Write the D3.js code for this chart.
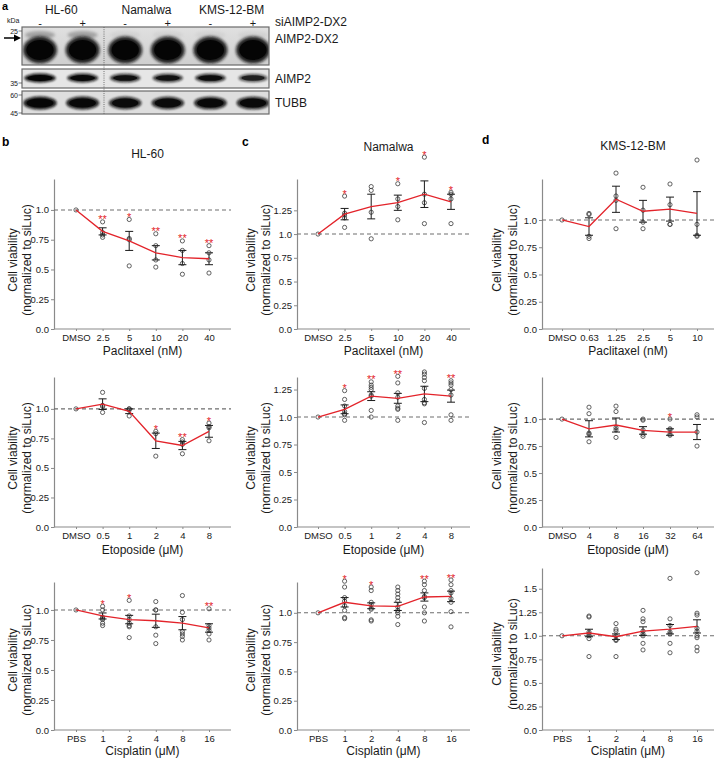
<!DOCTYPE html>
<html><head><meta charset="utf-8">
<script src="https://cdn.jsdelivr.net/npm/d3@7"></script>
<style>
body{margin:0;background:#fff}
svg{display:block}
text{font-family:"Liberation Sans",Arial,Helvetica,sans-serif}
</style>
</head><body>
<svg id="fig" width="719" height="758"></svg>
<script>
// ---------------- DATA ----------------
// Western blot (panel a)
const cellLines = ["HL-60", "Namalwa", "KMS-12-BM"];
const siLanes = ["-", "+", "-", "+", "-", "+"];
const blotRows = ["AIMP2-DX2", "AIMP2", "TUBB"];
const bandDX2 = [1.0, 1.0, 1.0, 1.0, 1.0, 1.0];
const bandAIMP2 = [0.95, 0.85, 0.75, 0.72, 0.78, 0.55];
const bandTUBB = [0.95, 0.9, 0.82, 0.82, 0.85, 0.85];
const markerLabels = ["25", "35", "60", "45"];

// Category (tick) labels
const catPacHL = ["DMSO", "2.5", "5", "10", "20", "40"];
const catPacKMS = ["DMSO", "0.63", "1.25", "2.5", "5", "10"];
const catEto = ["DMSO", "0.5", "1", "2", "4", "8"];
const catEtoKMS = ["DMSO", "4", "8", "16", "32", "64"];
const catCis = ["PBS", "1", "2", "4", "8", "16"];

const yTicks10 = [0, 0.25, 0.5, 0.75, 1.0];
const yTicks125 = [0, 0.25, 0.5, 0.75, 1.0, 1.25];
const yTicks15 = [0, 0.25, 0.5, 0.75, 1.0, 1.25, 1.5];
const yTickText = ["0.0", "0.25", "0.5", "0.75", "1.0", "1.25", "1.5"];

// b: HL-60
const meanB1 = [1, 0.82, 0.74, 0.64, 0.60, 0.59];
const semB1 = [0, 0.03, 0.08, 0.06, 0.06, 0.05];
const ptsB1 = [[1], [0.90, 0.81, 0.79, 0.77], [0.92, 0.76, 0.75, 0.53], [0.80, 0.70, 0.58, 0.52], [0.74, 0.66, 0.55, 0.46], [0.70, 0.64, 0.58, 0.47]];
const sigB1 = ["", "**", "*", "**", "**", "**"];

const meanB2 = [1, 1.04, 0.98, 0.73, 0.69, 0.81];
const semB2 = [0, 0.045, 0.02, 0.065, 0.035, 0.05];
const ptsB2 = [[1], [1.14, 1.03, 1.02, 0.97], [1.0, 1.0, 0.99, 0.94], [0.81, 0.79, 0.60], [0.74, 0.72, 0.70, 0.62], [0.88, 0.85, 0.84, 0.73]];
const sigB2 = ["", "", "", "*", "**", "*"];

const meanB3 = [1, 0.95, 0.92, 0.91, 0.89, 0.85];
const semB3 = [0, 0.025, 0.035, 0.055, 0.055, 0.035];
const ptsB3 = [[1], [1.03, 1.0, 0.94, 0.93, 0.92, 0.89, 0.87], [1.08, 0.95, 0.92, 0.89, 0.87, 0.86, 0.77], [1.07, 1.0, 1.0, 0.86, 0.79, 0.72], [1.12, 0.98, 0.92, 0.82, 0.80, 0.78, 0.75], [1.01, 0.87, 0.85, 0.83, 0.80, 0.75]];
const sigB3 = ["", "*", "*", "", "", "**"];

// c: Namalwa
const meanC1 = [1, 1.21, 1.29, 1.33, 1.42, 1.34];
const semC1 = [0, 0.06, 0.13, 0.08, 0.14, 0.08];
const ptsC1 = [[1], [1.40, 1.22, 1.20, 1.17, 1.07], [1.50, 1.46, 1.23, 0.95], [1.53, 1.37, 1.29, 1.15], [1.81, 1.42, 1.33, 1.11], [1.44, 1.42, 1.37, 1.11]];
const sigC1 = ["", "*", "", "*", "*", "*"];

const meanC2 = [1, 1.07, 1.19, 1.17, 1.21, 1.19];
const semC2 = [0, 0.04, 0.04, 0.045, 0.07, 0.055];
const ptsC2 = [[1], [1.24, 1.16, 1.10, 1.05, 1.03, 1.02, 0.97], [1.32, 1.29, 1.27, 1.25, 1.20, 1.19, 1.06, 1.0], [1.37, 1.31, 1.22, 1.18, 1.10, 1.08, 1.07, 0.97], [1.41, 1.39, 1.36, 1.33, 1.26, 1.16, 1.13, 1.12, 0.95], [1.33, 1.31, 1.29, 1.25, 1.20, 1.02, 0.97]];
const sigC2 = ["", "*", "**", "**", "", "**"];

const meanC3 = [1, 1.09, 1.06, 1.055, 1.135, 1.14];
const semC3 = [0, 0.04, 0.025, 0.035, 0.035, 0.045];
const ptsC3 = [[1], [1.27, 1.22, 1.13, 1.10, 1.06, 1.02, 0.96, 0.95], [1.22, 1.19, 1.09, 1.07, 1.04, 1.03, 0.94, 0.93], [1.22, 1.19, 1.16, 1.13, 1.10, 1.05, 1.02, 1.0, 0.97, 0.90], [1.27, 1.24, 1.19, 1.14, 1.13, 1.05, 1.0, 0.93], [1.28, 1.24, 1.19, 1.17, 1.12, 1.09, 1.01, 0.88]];
const sigC3 = ["", "*", "*", "", "**", "**"];

// d: KMS-12-BM
const meanD1 = [1, 0.94, 1.19, 1.08, 1.10, 1.06];
const semD1 = [0, 0.08, 0.12, 0.10, 0.11, 0.20];
const ptsD1 = [[1], [1.06, 1.05, 0.85, 0.83], [1.43, 1.22, 1.18, 0.92], [1.30, 1.09, 0.98, 0.92], [1.33, 1.14, 0.96, 0.96], [1.55, 0.96, 0.86, 0.85]];
const sigD1 = ["", "", "", "", "", ""];

const meanD2 = [1, 0.91, 0.945, 0.895, 0.88, 0.88];
const semD2 = [0, 0.075, 0.065, 0.035, 0.03, 0.07];
const ptsD2 = [[1], [1.11, 1.05, 0.87, 0.86, 0.79], [1.12, 1.07, 0.92, 0.90, 0.83], [1.0, 0.99, 0.90, 0.86, 0.84], [1.0, 0.91, 0.90, 0.86, 0.85], [1.04, 1.02, 0.88, 0.75]];
const sigD2 = ["", "", "", "", "*", ""];

const meanD3 = [1, 1.03, 0.99, 1.05, 1.07, 1.10];
const semD3 = [0, 0.04, 0.03, 0.045, 0.05, 0.07];
const ptsD3 = [[1], [1.21, 1.20, 1.04, 1.02, 1.0, 0.97, 0.78], [1.13, 1.07, 1.05, 1.0, 0.96, 0.95, 0.78], [1.27, 1.18, 1.15, 1.05, 1.02, 1.0, 0.92, 0.85], [1.61, 1.18, 1.11, 1.04, 1.02, 0.92, 0.82], [1.67, 1.24, 1.22, 1.08, 1.05, 1.0, 0.98, 0.88, 0.84]];
const sigD3 = ["", "", "", "", "", ""];

// ---------------- LAYOUT ----------------
const svg = d3.select("#fig");
const RED = "#e3232a";
const AXIS = "#8a8a8a";
const INK = "#1a1a1a";

const cols = {
  b: {x0: 54, x1: 231, p0: 76, p1: 209, lab1: 12.5, lab2: 27, title: "HL-60", titleY: 158, letterY: 146, letterX: 2},
  c: {x0: 297, x1: 470, p0: 318, p1: 451, lab1: 251, lab2: 266, title: "Namalwa", titleY: 151, letterY: 146, letterX: 242},
  d: {x0: 542, x1: 714, p0: 562, p1: 697, lab1: 497, lab2: 513, title: "KMS-12-BM", titleY: 150, letterY: 144, letterX: 482}
};
const rows = [
  {yt: 179, yb: 329, xlabY: 355, labC: 260},
  {yt: 377, yb: 527, xlabY: 554, labC: 458},
  {yt: 582, yb: 730, xlabY: 755, labC: 660}
];

const panels = [
  {col: "b", row: 0, cats: catPacHL, mean: meanB1, sem: semB1, pts: ptsB1, sig: sigB1, ymax: 1.26, yticks: yTicks10, xlab: "Paclitaxel (nM)"},
  {col: "c", row: 0, cats: catPacHL, mean: meanC1, sem: semC1, pts: ptsC1, sig: sigC1, ymax: 1.58, yticks: yTicks125, xlab: "Paclitaxel (nM)"},
  {col: "d", row: 0, cats: catPacKMS, mean: meanD1, sem: semD1, pts: ptsD1, sig: sigD1, ymax: 1.376, yticks: yTicks10, xlab: "Paclitaxel (nM)"},
  {col: "b", row: 1, cats: catEto, mean: meanB2, sem: semB2, pts: ptsB2, sig: sigB2, ymax: 1.27, yticks: yTicks10, xlab: "Etoposide (\u03bcM)"},
  {col: "c", row: 1, cats: catEto, mean: meanC2, sem: semC2, pts: ptsC2, sig: sigC2, ymax: 1.364, yticks: yTicks125, xlab: "Etoposide (\u03bcM)"},
  {col: "d", row: 1, cats: catEtoKMS, mean: meanD2, sem: semD2, pts: ptsD2, sig: sigD2, ymax: 1.39, yticks: yTicks10, xlab: "Etoposide (\u03bcM)"},
  {col: "b", row: 2, cats: catCis, mean: meanB3, sem: semB3, pts: ptsB3, sig: sigB3, ymax: 1.233, yticks: yTicks10, xlab: "Cisplatin (\u03bcM)"},
  {col: "c", row: 2, cats: catCis, mean: meanC3, sem: semC3, pts: ptsC3, sig: sigC3, ymax: 1.263, yticks: yTicks10, xlab: "Cisplatin (\u03bcM)"},
  {col: "d", row: 2, cats: catCis, mean: meanD3, sem: semD3, pts: ptsD3, sig: sigD3, ymax: 1.72, yticks: yTicks15, xlab: "Cisplatin (\u03bcM)", yt: 568, labC: 654}
];

function fmtTick(v) { return yTickText[Math.round(v / 0.25)]; }

function drawPanel(p) {
  const C = cols[p.col], R = rows[p.row];
  const yt = p.yt || R.yt, yb = R.yb;
  const g = svg.append("g");
  const x = d3.scalePoint().domain(p.cats).range([C.p0, C.p1]);
  const y = d3.scaleLinear().domain([0, p.ymax]).range([yb, yt]);

  // y axis
  const ya = g.append("g").attr("transform", `translate(${C.x0},0)`)
    .call(d3.axisLeft(y).tickValues(p.yticks).tickFormat(fmtTick).tickSize(3).tickSizeOuter(0).tickPadding(2));
  ya.select(".domain").attr("stroke", AXIS).attr("stroke-width", 1.2);
  ya.selectAll(".tick line").attr("stroke", AXIS);
  ya.selectAll(".tick text").attr("fill", INK).style("font-size", "9.5px").style("font-family", "'Liberation Sans',Arial,sans-serif");

  // x axis
  const xa = g.append("g").attr("transform", `translate(0,${yb})`)
    .call(d3.axisBottom(x).tickSize(2).tickSizeOuter(0).tickPadding(3));
  xa.select(".domain").remove();
  xa.selectAll(".tick line").attr("stroke", AXIS);
  xa.selectAll(".tick text").attr("fill", INK).style("font-size", "9.5px").style("font-family", "'Liberation Sans',Arial,sans-serif");
  g.append("line").attr("x1", C.x0).attr("x2", C.x1).attr("y1", yb).attr("y2", yb)
    .attr("stroke", AXIS).attr("stroke-width", 1.2);

  // reference dashed line at 1.0
  g.append("line").attr("x1", C.x0).attr("x2", C.x1).attr("y1", y(1)).attr("y2", y(1))
    .attr("stroke", "#6e6e6e").attr("stroke-width", 1.1).attr("stroke-dasharray", "4,3");

  // individual points
  const flat = [];
  p.pts.forEach((arr, i) => arr.forEach(v => flat.push({c: p.cats[i], v})));
  g.selectAll("circle.pt").data(flat).enter().append("circle")
    .attr("cx", d => x(d.c)).attr("cy", d => y(d.v)).attr("r", 2.1)
    .attr("fill", "none").attr("stroke", "#3a3a3a").attr("stroke-width", 0.8);

  // error bars
  const eb = p.mean.map((m, i) => ({c: p.cats[i], m, s: p.sem[i]})).filter(d => d.s > 0);
  const ebg = g.selectAll("g.eb").data(eb).enter().append("g");
  ebg.append("line").attr("x1", d => x(d.c)).attr("x2", d => x(d.c))
    .attr("y1", d => y(d.m - d.s)).attr("y2", d => y(d.m + d.s)).attr("stroke", INK).attr("stroke-width", 1);
  ebg.append("line").attr("x1", d => x(d.c) - 4).attr("x2", d => x(d.c) + 4)
    .attr("y1", d => y(d.m + d.s)).attr("y2", d => y(d.m + d.s)).attr("stroke", INK).attr("stroke-width", 1);
  ebg.append("line").attr("x1", d => x(d.c) - 4).attr("x2", d => x(d.c) + 4)
    .attr("y1", d => y(d.m - d.s)).attr("y2", d => y(d.m - d.s)).attr("stroke", INK).attr("stroke-width", 1);

  // mean line
  g.append("path").datum(p.mean.map((m, i) => [x(p.cats[i]), y(m)]))
    .attr("d", d3.line()).attr("fill", "none").attr("stroke", RED).attr("stroke-width", 1.3);

  // significance
  p.sig.forEach((s, i) => {
    if (!s) return;
    g.append("text").attr("x", x(p.cats[i])).attr("y", y(d3.max(p.pts[i])) + 1.5)
      .attr("text-anchor", "middle").attr("fill", RED).style("font-size", "11px").text(s);
  });

  // axis titles
  g.append("text").attr("x", (C.x0 + C.x1) / 2).attr("y", R.xlabY).attr("text-anchor", "middle")
    .attr("fill", INK).style("font-size", "12px").text(p.xlab);
  const lc = p.labC || R.labC;
  g.append("text").attr("transform", `translate(${C.lab1},${lc}) rotate(-90)`).attr("text-anchor", "middle")
    .attr("dominant-baseline", "central").attr("fill", INK).style("font-size", "12px").text("Cell viability");
  g.append("text").attr("transform", `translate(${C.lab2},${lc}) rotate(-90)`).attr("text-anchor", "middle")
    .attr("dominant-baseline", "central").attr("fill", INK).style("font-size", "12px").text("(normalized to siLuc)");
}

panels.forEach(drawPanel);

// column titles & letters
Object.entries(cols).forEach(([k, C]) => {
  svg.append("text").attr("x", (C.x0 + C.x1) / 2 + 5).attr("y", C.titleY).attr("text-anchor", "middle")
    .attr("fill", INK).style("font-size", "12px").text(C.title);
  svg.append("text").attr("x", C.letterX).attr("y", C.letterY).attr("fill", "#000")
    .style("font-size", "12px").style("font-weight", "bold").text(k);
});

// ---------------- PANEL a : western blot ----------------
const A = svg.append("g");
A.append("text").attr("x", 2).attr("y", 10).style("font-size", "11px").style("font-weight", "bold").text("a");

const defs = svg.append("defs");
defs.append("filter").attr("id", "blur1").attr("x", "-40%").attr("y", "-60%").attr("width", "180%").attr("height", "220%")
  .append("feGaussianBlur").attr("stdDeviation", 1.4);
defs.append("filter").attr("id", "blur2").attr("x", "-40%").attr("y", "-100%").attr("width", "180%").attr("height", "300%")
  .append("feGaussianBlur").attr("stdDeviation", 1.1);
const lg = defs.append("linearGradient").attr("id", "bg1").attr("x1", 0).attr("y1", 0).attr("x2", 0).attr("y2", 1);
lg.append("stop").attr("offset", "0%").attr("stop-color", "#e0e0e0");
lg.append("stop").attr("offset", "100%").attr("stop-color", "#cfcfcf");

const laneX = d3.scalePoint().domain(d3.range(siLanes.length)).range([40, 253]);
const boxX0 = 22, boxX1 = 269;
const boxes = [
  {y0: 27, y1: 65, bands: bandDX2, cy: 50, rx: 16, ry: 12.5, fill: "url(#bg1)", filt: "blur1"},
  {y0: 69, y1: 88, bands: bandAIMP2, cy: 78, rx: 15, ry: 3.8, fill: "#e6e6e6", filt: "blur2"},
  {y0: 91, y1: 114, bands: bandTUBB, cy: 103, rx: 16, ry: 5.8, fill: "#dedede", filt: "blur2"}
];
boxes.forEach((b, bi) => {
  A.append("rect").attr("x", boxX0).attr("y", b.y0).attr("width", boxX1 - boxX0).attr("height", b.y1 - b.y0)
    .attr("fill", b.fill);
  const cp = "clip" + bi;
  defs.append("clipPath").attr("id", cp).append("rect").attr("x", boxX0).attr("y", b.y0)
    .attr("width", boxX1 - boxX0).attr("height", b.y1 - b.y0);
  const bg = A.append("g").attr("clip-path", `url(#${cp})`);
  if (bi === 0) {
    // faint smear above bands
    bg.selectAll("ellipse.sm").data(b.bands).enter().append("ellipse")
      .attr("cx", (d, i) => laneX(i)).attr("cy", 35).attr("rx", 15).attr("ry", 4)
      .attr("fill", "#8a8a8a").attr("opacity", (d, i) => i < 2 ? 0.7 : 0.12).attr("filter", "url(#blur1)");
  }
  // soft halo
  bg.selectAll("ellipse.halo").data(b.bands).enter().append("ellipse")
    .attr("cx", (d, i) => laneX(i)).attr("cy", b.cy)
    .attr("rx", d => b.rx * (0.8 + 0.2 * d) + 1).attr("ry", d => b.ry * (0.75 + 0.25 * d) + 1)
    .attr("fill", "#111").attr("opacity", d => 0.3 + 0.6 * d).attr("filter", `url(#${b.filt})`);
  // solid core
  bg.selectAll("ellipse.core").data(b.bands).enter().append("ellipse")
    .attr("cx", (d, i) => laneX(i)).attr("cy", b.cy)
    .attr("rx", d => (b.rx * (0.8 + 0.2 * d)) * 0.85).attr("ry", d => (b.ry * (0.75 + 0.25 * d)) * 0.8)
    .attr("fill", "#050505").attr("opacity", d => 0.3 + 0.7 * d);
  A.append("rect").attr("x", boxX0).attr("y", b.y0).attr("width", boxX1 - boxX0).attr("height", b.y1 - b.y0)
    .attr("fill", "none").attr("stroke", "#6a6a6a").attr("stroke-width", 1.2);
  A.append("text").attr("x", 275).attr("y", [43, 83, 107][bi]).style("font-size", "12px").attr("fill", INK).text(blotRows[bi]);
});
// dotted separator
A.append("line").attr("x1", 104).attr("x2", 104).attr("y1", 27).attr("y2", 114)
  .attr("stroke", "#555").attr("stroke-width", 0.8).attr("stroke-dasharray", "1,1.2");

// marker labels
const markerY = [31, 83, 95, 113];
markerLabels.forEach((m, i) => {
  A.append("text").attr("x", 18).attr("y", markerY[i] + 2.5).attr("text-anchor", "end").style("font-size", "7px").attr("fill", INK).text(m);
  A.append("line").attr("x1", 18.5).attr("x2", 22).attr("y1", markerY[i]).attr("y2", markerY[i]).attr("stroke", "#444").attr("stroke-width", 0.7);
});
A.append("text").attr("x", 7).attr("y", 23).style("font-size", "7px").attr("fill", INK).text("kDa");
// arrow
A.append("line").attr("x1", 4).attr("x2", 16).attr("y1", 38).attr("y2", 38).attr("stroke", "#000").attr("stroke-width", 1.5);
A.append("path").attr("d", "M14,34.5 L21,38 L14,41.5 Z").attr("fill", "#000");

// lane labels and cell line names
siLanes.forEach((s, i) => {
  A.append("text").attr("x", laneX(i)).attr("y", 26.5).attr("text-anchor", "middle").style("font-size", "11px").attr("fill", INK).text(s);
});
cellLines.forEach((c, i) => {
  A.append("text").attr("x", (laneX(2 * i) + laneX(2 * i + 1)) / 2).attr("y", 14).attr("text-anchor", "middle")
    .style("font-size", "12px").attr("fill", INK).text(c);
});
A.append("text").attr("x", 275).attr("y", 26).style("font-size", "12px").attr("fill", INK).text("siAIMP2-DX2");
</script>
</body></html>
